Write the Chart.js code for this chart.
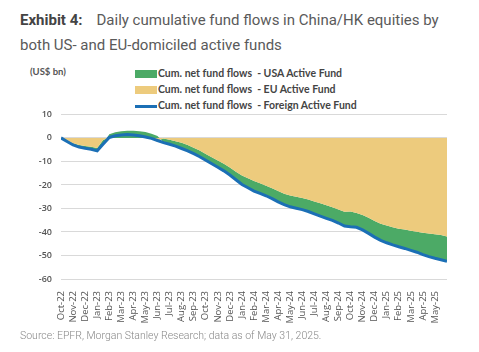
<!DOCTYPE html>
<html>
<head>
<meta charset="utf-8">
<script src="https://cdn.jsdelivr.net/npm/chart.js@4.4.1/dist/chart.umd.min.js"></script>
<style>
  body { margin: 0; background: #fff; width: 479px; height: 352px; overflow: hidden; position: relative; font-family: Roboto, sans-serif; }
  #titulo { position: absolute; left: 20px; top: 8px; font-size: 15px; line-height: 25px; color: #5a5a5a; font-weight: 400; }
  #titulo b { color: #444; font-weight: 700; margin-right: 14px; }
  #unidade { position: absolute; left: 30px; top: 66px; font-family: Lato, sans-serif; font-weight: 700; font-size: 9.5px; color: #555; }
  #legenda { position: absolute; left: 135px; top: 66px; font-family: Lato, sans-serif; font-weight: 700; font-size: 10.5px; color: #444; }
  #legenda div { height: 16px; line-height: 14px; white-space: pre; }
  #legenda span { display: inline-block; width: 22px; vertical-align: middle; margin-right: 1px; }
  #fonte { position: absolute; left: 20px; top: 329px; font-size: 10.5px; color: #888; font-weight: 300; }
  #caixa { position: absolute; left: 0; top: 100px; width: 479px; height: 233px; }
</style>
</head>
<body>
<div id="titulo"><b>Exhibit 4:</b>Daily cumulative fund flows in China/HK equities by<br>both US- and EU-domiciled active funds</div>
<div id="unidade">(US$ bn)</div>
<div id="legenda">
  <div><span style="height:8px;background:#4caa66"></span>Cum. net fund flows  - USA Active Fund</div>
  <div><span style="height:8px;background:#edcb7d"></span>Cum. net fund flows  - EU Active Fund</div>
  <div><span style="height:3px;background:#1b6fb5"></span>Cum. net fund flows  - Foreign Active Fund</div>
</div>
<div id="caixa"><canvas id="grafico"></canvas></div>
<div id="fonte">Source: EPFR, Morgan Stanley Research; data as of May 31, 2025.</div>
<script>
// meses (0 = Oct-22), pontos a cada meio mes
let meses = ["Oct-22","Nov-22","Dec-22","Jan-23","Feb-23","Mar-23","Apr-23","May-23","Jun-23","Jul-23","Aug-23","Sep-23",
    "Oct-23","Nov-23","Dec-23","Jan-24","Feb-24","Mar-24","Apr-24","May-24","Jun-24","Jul-24","Aug-24","Sep-24",
    "Oct-24","Nov-24","Dec-24","Jan-25","Feb-25","Mar-25","Apr-25","May-25"];

let posicoes = [0,0.5,1,1.5,2,2.5,3,3.5,4,4.5,5,5.5,6,6.5,7,7.5,8,8.5,9,9.5,10,10.5,11,11.5,12,12.5,13,13.5,14,14.5,15,15.5,
    16,16.5,17,17.5,18,18.5,19,19.5,20,20.5,21,21.5,22,22.5,23,23.5,24,24.5,25,25.5,26,26.5,27,27.5,28,28.5,29,29.5,30,30.5,31,31.5,32];

let fluxoEU = [0,-1.0,-2.3,-3.0,-3.4,-3.8,-4.3,-0.8,0,0,0,0,0,0,0,-0.2,-1.1,-0.2,-0.8,-1.4,-2.1,-3.0,-4.2,-5.4,-6.8,-8.2,-9.6,-11.0,
    -12.6,-14.4,-16.0,-17.2,-18.3,-19.3,-20.3,-21.4,-22.6,-23.7,-24.5,-25.0,-25.5,-26.2,-27.0,-27.8,-28.6,-29.5,-30.4,-31.4,
    -31.3,-31.9,-32.8,-34.0,-35.3,-36.5,-37.3,-38.0,-38.6,-39.0,-39.5,-39.9,-40.3,-40.7,-41.0,-41.3,-41.9];

let fluxoUSA = [0,-0.5,-0.7,-0.9,-1.0,-1.0,-1.2,-1.8,1.6,2.4,2.8,3.0,3.0,2.8,2.5,2.0,1.9,-1.8,-1.9,-2.1,-2.4,-2.5,-2.5,-2.6,
    -2.7,-2.8,-2.9,-3.0,-3.2,-3.4,-3.8,-4.0,-4.3,-4.3,-4.3,-4.4,-4.6,-4.7,-4.8,-4.9,-5.0,-5.1,-5.3,-5.5,-5.6,-5.6,-5.8,-6.1,
    -6.5,-6.1,-6.3,-6.6,-6.9,-7.1,-7.3,-7.5,-7.7,-8.0,-8.3,-8.7,-9.3,-9.8,-10.2,-10.5,-10.6];

let fluxoForeign = [0,-1.5,-3.0,-3.9,-4.4,-4.8,-5.5,-2.6,0.2,0.9,1.2,1.4,1.2,0.9,0.4,-0.2,-1.1,-2.0,-2.7,-3.5,-4.5,-5.5,-6.7,-8.0,
    -9.5,-11.0,-12.5,-14.0,-15.8,-17.8,-19.8,-21.2,-22.6,-23.6,-24.6,-25.8,-27.2,-28.4,-29.3,-29.9,-30.5,-31.3,-32.3,-33.3,
    -34.2,-35.1,-36.2,-37.5,-37.8,-38.0,-39.1,-40.6,-42.2,-43.6,-44.6,-45.5,-46.3,-47.0,-47.8,-48.6,-49.6,-50.5,-51.2,-51.8,-52.5];

function pontos(valores) {
    return valores.map((v, i) => ({x: posicoes[i], y: v}));
}

let fonteEixo = {family: "'Open Sans', sans-serif", size: 9, weight: '600'};

window.onload = function () {
    let ctx = document.getElementById("grafico").getContext('2d');
    new Chart(ctx, {
        type: 'line',
        data: {
            datasets: [{
                label: "Cum. net fund flows - Foreign Active Fund",
                data: pontos(fluxoForeign),
                borderColor: '#1b6fb5',
                borderWidth: 3,
                fill: false,
                stack: 'total'
            }, {
                label: "Cum. net fund flows - EU Active Fund",
                data: pontos(fluxoEU),
                borderWidth: 0,
                borderColor: 'rgba(0,0,0,0)',
                backgroundColor: '#edcb7d',
                fill: 'origin',
                stack: 'fundos'
            }, {
                label: "Cum. net fund flows - USA Active Fund",
                data: pontos(fluxoUSA),
                borderWidth: 0,
                borderColor: 'rgba(0,0,0,0)',
                backgroundColor: '#4caa66',
                fill: '-1',
                stack: 'fundos'
            }]
        },
        options: {
            responsive: true,
            maintainAspectRatio: false,
            animation: false,
            elements: {point: {radius: 0}, line: {tension: 0}},
            layout: {padding: {top: 10, right: 32, left: 0, bottom: 0}},
            plugins: {legend: {display: false}, tooltip: {enabled: false}},
            scales: {
                x: {
                    type: 'linear',
                    min: 0,
                    max: 32,
                    grid: {display: false},
                    border: {display: false},
                    afterFit: function (escala) { escala.height = 54; },
                    ticks: {
                        stepSize: 1,
                        autoSkip: false,
                        minRotation: 90,
                        maxRotation: 90,
                        padding: 4,
                        color: '#555',
                        font: {family: "'Open Sans', sans-serif", size: 9.5, weight: '400'},
                        callback: function (valor) { return meses[valor] || ''; }
                    }
                },
                y: {
                    stacked: 'single',
                    min: -60,
                    max: 10,
                    border: {display: false},
                    grid: {color: '#d9d9d9', drawTicks: false},
                    afterFit: function (escala) { escala.width = 61; },
                    ticks: {stepSize: 10, padding: 9, color: '#555', font: fonteEixo}
                }
            }
        }
    });
};
</script>
</body>
</html>
